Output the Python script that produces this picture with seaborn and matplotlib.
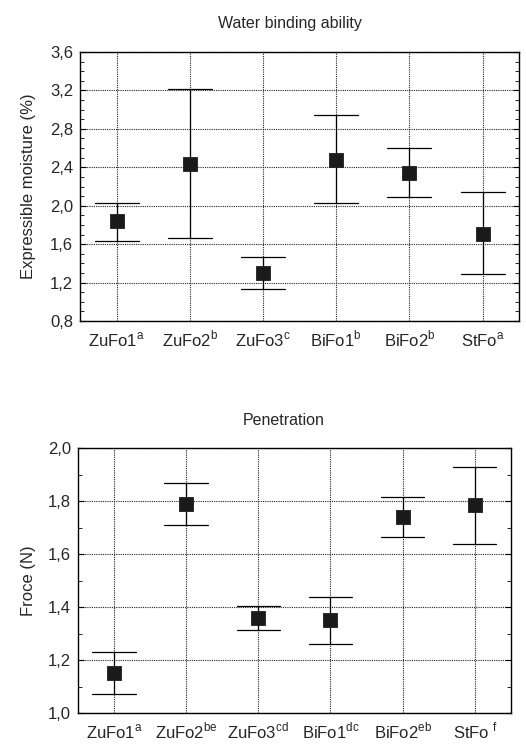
"""
Two error-bar panels: water binding ability and penetration force per formulation.
"""

import numpy as np
import pandas as pd
import matplotlib
matplotlib.use("Agg")
import matplotlib.pyplot as plt
from matplotlib.ticker import MultipleLocator
import seaborn as sns

# categories / x tick labels
water_labels = ["ZuFo1$^{\\mathrm{a}}$", "ZuFo2$^{\\mathrm{b}}$", "ZuFo3$^{\\mathrm{c}}$",
                "BiFo1$^{\\mathrm{b}}$", "BiFo2$^{\\mathrm{b}}$", "StFo$^{\\mathrm{a}}$"]
pen_labels = ["ZuFo1$^{\\mathrm{a}}$", "ZuFo2$^{\\mathrm{be}}$", "ZuFo3$^{\\mathrm{cd}}$",
              "BiFo1$^{\\mathrm{dc}}$", "BiFo2$^{\\mathrm{eb}}$", "StFo$^{\\ \\mathrm{f}}$"]

# water binding ability, expressible moisture (%)
water_mean = [1.84, 2.43, 1.30, 2.48, 2.34, 1.71]
water_low = [1.63, 1.66, 1.13, 2.03, 2.09, 1.29]
water_high = [2.03, 3.21, 1.47, 2.94, 2.60, 2.14]

# penetration force (N)
pen_mean = [1.15, 1.79, 1.36, 1.35, 1.74, 1.785]
pen_low = [1.07, 1.71, 1.315, 1.26, 1.665, 1.638]
pen_high = [1.23, 1.867, 1.406, 1.438, 1.815, 1.928]

water_yticks = [0.8, 1.2, 1.6, 2.0, 2.4, 2.8, 3.2, 3.6]
water_yticklabels = ["0,8", "1,2", "1,6", "2,0", "2,4", "2,8", "3,2", "3,6"]
pen_yticks = [1.0, 1.2, 1.4, 1.6, 1.8, 2.0]
pen_yticklabels = ["1,0", "1,2", "1,4", "1,6", "1,8", "2,0"]


def long_form(labels, low, mean, high):
    # low / mean / high per category; median gives the mean, pi 100 gives the range
    vals = np.column_stack([low, mean, high]).ravel()
    return pd.DataFrame({"cat": np.repeat(labels, 3), "val": vals})


def draw_panel(ax, df, title, ylabel, yticks, yticklabels, ylim, label_x, title_pad, title_x):
    sns.pointplot(data=df, x="cat", y="val", estimator="median", errorbar=("pi", 100),
                  capsize=0.6, marker="s", linestyle="none", color="#1a1a1a",
                  markersize=8.2, err_kws={"linewidth": 0.9, "color": "black", "zorder": 1.8},
                  ax=ax)
    for ln in ax.lines:
        if ln.get_marker() == "s":
            ln.set_zorder(3)
    ax.set_xlim(-0.5, 5.5)
    ax.set_ylim(*ylim)
    ax.set_yticks(yticks)
    ax.set_yticklabels(yticklabels)
    ax.yaxis.set_minor_locator(MultipleLocator(0.1))
    ax.set_axisbelow(True)
    ax.grid(True, which="major", linestyle=(0, (1, 1)), color="#222222", linewidth=0.8)
    ax.tick_params(axis="y", which="both", direction="in", left=True, right=True,
                   labelsize=12, pad=5, color="black")
    ax.tick_params(axis="y", which="minor", length=3)
    ax.tick_params(axis="y", which="major", length=4)
    ax.tick_params(axis="x", length=0, labelsize=12, pad=18.5)
    for lab in ax.get_xticklabels():
        lab.set_verticalalignment("baseline")
    for s in ax.spines.values():
        s.set_visible(True)
        s.set_color("black")
        s.set_linewidth(1.0)
    ax.set_xlabel("")
    ax.set_ylabel(ylabel, fontsize=12)
    ax.yaxis.set_label_coords(label_x, 0.5)
    ax.set_title(title, fontsize=11.5, pad=title_pad, x=title_x)


sns.set_style("white")
plt.rcParams["font.family"] = ["Liberation Sans", "DejaVu Sans"]
plt.rcParams["mathtext.fontset"] = "custom"
plt.rcParams["mathtext.rm"] = "Liberation Sans"

fig = plt.figure(figsize=(5.26, 7.46), dpi=100)
ax1 = fig.add_axes([0.152, 0.5697, 0.835, 0.3606])
ax2 = fig.add_axes([0.148, 0.0442, 0.823, 0.355])

draw_panel(ax1, long_form(water_labels, water_low, water_mean, water_high),
           "Water binding ability", "Expressible moisture (%)",
           water_yticks, water_yticklabels, (0.8, 3.6), -0.100, 17, 0.478)
draw_panel(ax2, long_form(pen_labels, pen_low, pen_mean, pen_high),
           "Penetration", "Froce (N)",
           pen_yticks, pen_yticklabels, (1.0, 2.0), -0.097, 16.5, 0.476)

fig.savefig("out.png", dpi=100)
